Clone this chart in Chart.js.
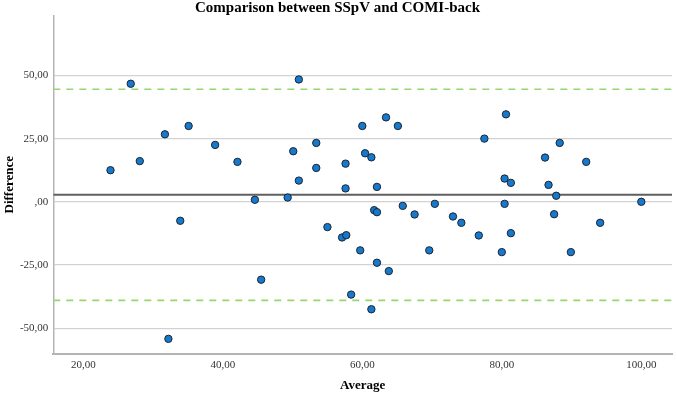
<!DOCTYPE html>
<html>
<head>
<meta charset="utf-8">
<script src="https://cdn.jsdelivr.net/npm/chart.js@4/dist/chart.umd.min.js"></script>
<style>
  html, body { margin: 0; padding: 0; background: #fff; }
  #wrap { width: 677px; height: 394px; }
</style>
</head>
<body>
<div id="wrap"><canvas id="chart" width="677" height="394"></canvas></div>
<script>
// Bland-Altman data
const averages = [23.9, 26.8, 28.1, 31.7, 32.2, 33.9, 35.1, 38.9, 42.1, 44.6,
  45.5, 49.3, 50.1, 50.9, 50.9, 53.4, 53.4, 55.0, 57.1, 57.6,
  57.6, 57.7, 58.4, 59.7, 60.0, 60.4, 61.3, 61.3, 61.7, 62.1,
  62.1, 62.1, 63.4, 63.8, 65.1, 65.8, 67.5, 69.6, 70.4, 73.0,
  74.2, 76.7, 77.5, 80.0, 80.4, 80.4, 80.6, 81.3, 81.3, 86.2,
  86.7, 87.5, 87.8, 88.3, 89.9, 92.1, 94.1, 100.0];
const differences = [12.5, 46.7, 16.1, 26.7, -54.2, -7.5, 30.0, 22.5, 15.8, 0.8,
  -30.8, 1.7, 20.0, 48.4, 8.4, 23.3, 13.4, -10.0, -14.1, 15.1,
  5.3, -13.2, -36.7, -19.2, 30.0, 19.2, 17.6, -42.5, -3.3, 5.9,
  -4.1, -24.1, 33.4, -27.4, 30.0, -1.6, -5.0, -19.2, -0.8, -5.8,
  -8.3, -13.3, 25.0, -19.9, 9.2, -0.8, 34.6, 7.5, -12.4, 17.5,
  6.7, -4.9, 2.4, 23.3, -19.9, 15.8, -8.3, 0.0];
const meanDiff = 2.8;
const upperLimit = 44.5;
const lowerLimit = -39.0;
const xTicks = [20, 40, 60, 80, 100];
const yTicks = [-50, -25, 0, 25, 50];
const xRange = [15.7, 104.4];
const yRange = [-60, 73.5];

const fmt = v => {
  let s = v.toFixed(2).replace('.', ',');
  if (Math.abs(v) < 1) s = s.replace(/^(-?)0/, '$1');
  return s;
};
const hline = y => [{ x: xRange[0], y }, { x: xRange[1], y }];
const serif = 'Liberation Serif, Times New Roman, serif';

new Chart(document.getElementById('chart'), {
  type: 'scatter',
  data: {
    datasets: [
      {
        label: 'Difference',
        data: averages.map((a, i) => ({ x: a, y: differences[i] })),
        backgroundColor: '#1679cc', borderColor: '#1c2433', borderWidth: 1,
        pointRadius: 3.7, order: 0
      },
      {
        type: 'line', label: 'Mean', data: hline(meanDiff),
        borderColor: '#5f5f5f', borderWidth: 2, pointRadius: 0, order: 2
      },
      {
        type: 'line', label: 'Upper', data: hline(upperLimit),
        borderColor: '#95d873', borderWidth: 1.6, borderDash: [7, 6], pointRadius: 0, order: 1
      },
      {
        type: 'line', label: 'Lower', data: hline(lowerLimit),
        borderColor: '#95d873', borderWidth: 1.6, borderDash: [7, 6], pointRadius: 0, order: 1
      }
    ]
  },
  options: {
    responsive: false,
    animation: false,
    layout: { padding: { left: 0, right: 2, top: 0, bottom: 0 } },
    plugins: {
      legend: { display: false },
      tooltip: { enabled: false },
      title: {
        display: true,
        text: 'Comparison between SSpV and COMI-back',
        color: '#000',
        font: { family: serif, size: 15, weight: 'bold', lineHeight: 1 },
        padding: { top: 1, bottom: 0 }
      }
    },
    scales: {
      x: {
        type: 'linear', min: xRange[0], max: xRange[1],
        afterBuildTicks: s => { s.ticks = xTicks.map(v => ({ value: v })); },
        afterFit: s => { s.height = 40.5; },
        grid: { display: false, drawTicks: false },
        border: { color: '#b4b4b4', width: 2 },
        ticks: { padding: 5, color: '#333', font: { family: serif, size: 11 }, callback: fmt, maxRotation: 0 },
        title: {
          display: true, text: 'Average', color: '#000',
          font: { family: serif, size: 13, weight: 'bold', lineHeight: 1.2 },
          padding: { top: 0, bottom: 1 }
        }
      },
      y: {
        type: 'linear', min: yRange[0], max: yRange[1],
        afterBuildTicks: s => { s.ticks = yTicks.map(v => ({ value: v })); },
        afterFit: s => { s.width = 53.3; },
        grid: { color: '#d2d2d2', lineWidth: 1.3, drawTicks: false },
        border: { color: '#b4b4b4', width: 1.5 },
        ticks: { padding: 5, color: '#333', font: { family: serif, size: 11 }, callback: fmt },
        title: {
          display: true, text: 'Difference', color: '#000',
          font: { family: serif, size: 13, weight: 'bold', lineHeight: 1.2 },
          padding: { top: 2, bottom: 0 }
        }
      }
    }
  }
});
</script>
</body>
</html>
